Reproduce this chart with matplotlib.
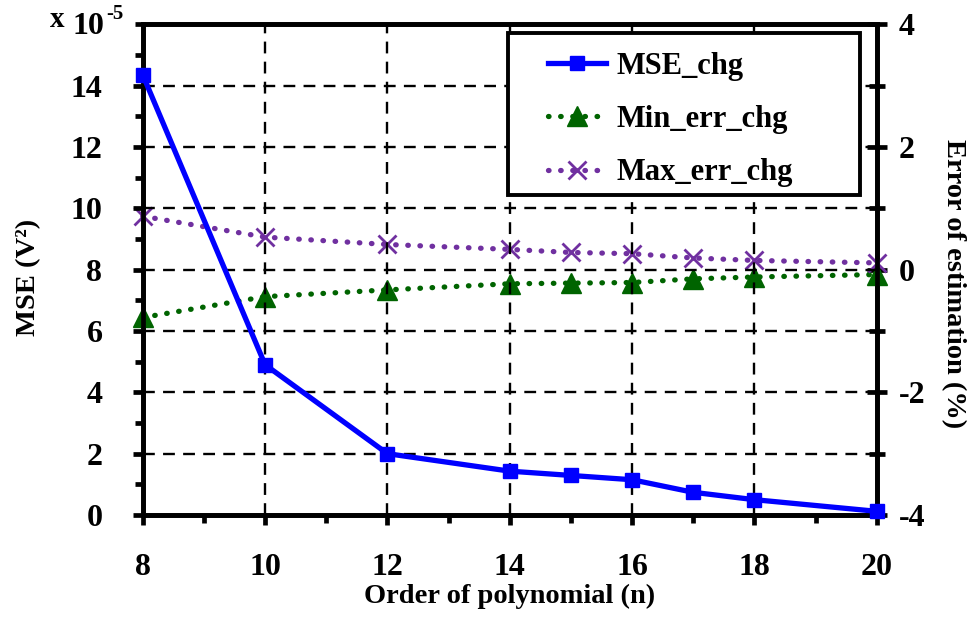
import matplotlib
matplotlib.use("Agg")
import matplotlib.pyplot as plt
from matplotlib.patches import Rectangle
from matplotlib.ticker import MultipleLocator, FixedLocator

plt.rcParams['font.family'] = ['Liberation Serif', 'DejaVu Serif']
plt.rcParams['font.weight'] = 'bold'
plt.rcParams['axes.unicode_minus'] = False

# Polynomial order
order = [8, 10, 12, 14, 15, 16, 17, 18, 20]
# Mean squared error (x 1e-5 V^2)
mse_chg = [14.35, 4.9, 2.0, 1.43, 1.29, 1.15, 0.74, 0.50, 0.12]
# Estimation error bounds (%)
min_err_chg = [-0.78, -0.44, -0.33, -0.23, -0.22, -0.21, -0.15, -0.12, -0.08]
max_err_chg = [0.87, 0.53, 0.41, 0.33, 0.28, 0.26, 0.19, 0.15, 0.11]

x_ticks = [8, 10, 12, 14, 16, 18, 20]
left_ticks = [0, 2, 4, 6, 8, 10, 12, 14]
right_ticks = [-4, -2, 0, 2, 4]

fig = plt.figure(figsize=(9.71, 6.22), dpi=100)
ax = fig.add_axes([0.147, 0.172, 0.756, 0.789])
ax2 = ax.twinx()

ax.set_xlim(8, 20)
ax.set_ylim(0, 16)
ax2.set_ylim(-4, 4)

# dashed grid on even orders and even MSE values
grid_kw = dict(color='black', lw=1.7, ls=(0, (5, 3.5)), zorder=0.5)
for xv in x_ticks[1:-1]:
    ax.axvline(xv, **grid_kw)
for yv in left_ticks[1:]:
    ax.axhline(yv, **grid_kw)

l1, = ax.plot(order, mse_chg, color='#0000FF', lw=3.8, marker='s', ms=10,
              label='MSE_chg', zorder=3, clip_on=False)
l2, = ax2.plot(order, min_err_chg, color='#006400', lw=3.8, ls=(0, (0.1, 2.2)),
               dash_capstyle='round', marker='^', ms=14, label='Min_err_chg',
               zorder=3, clip_on=False)
l3, = ax2.plot(order, max_err_chg, color='#7030A0', lw=3.8, ls=(0, (0.1, 2.2)),
               dash_capstyle='round', marker='x', ms=13, mew=2.0,
               label='Max_err_chg', zorder=3, clip_on=False)
ax.set_zorder(ax2.get_zorder() + 1)
ax.patch.set_visible(False)

for a in (ax, ax2):
    for s in a.spines.values():
        s.set_linewidth(3.4)

ax.xaxis.set_major_locator(FixedLocator(x_ticks))
ax.xaxis.set_minor_locator(MultipleLocator(1))
ax.yaxis.set_major_locator(FixedLocator(left_ticks))
ax.yaxis.set_minor_locator(MultipleLocator(1))
ax2.yaxis.set_major_locator(FixedLocator(right_ticks))
ax2.yaxis.set_minor_locator(MultipleLocator(1))

tick_fs = 23
ax.tick_params(axis='x', which='major', direction='out', length=7, width=3.4,
               pad=20, labelsize=tick_fs)
ax.tick_params(axis='x', which='minor', direction='out', length=6, width=3.4)
ax.tick_params(axis='y', which='major', direction='out', length=7, width=3.4,
               pad=22, labelsize=tick_fs)
ax.tick_params(axis='y', which='minor', direction='out', length=6, width=3.4)
ax2.tick_params(axis='y', which='major', direction='inout', length=14, width=3.4,
                pad=9, labelsize=tick_fs)
ax2.tick_params(axis='y', which='minor', direction='inout', length=12, width=3.4)

ax.set_xlabel('Order of polynomial (n)', fontsize=20.5, fontweight='bold', labelpad=2)
ax.set_ylabel('MSE (V²)', fontsize=20.5, fontweight='bold', labelpad=21)
ax2.set_ylabel('Error of estimation (%)', fontsize=20.5, fontweight='bold',
               rotation=-90, labelpad=29)
ax.yaxis.label.set_y(0.485)
ax2.yaxis.label.set_y(0.472)

fig.text(0.051, 0.968, 'x', fontsize=21, fontweight='bold', ha='left', va='center')
fig.text(0.075, 0.958, '10', fontsize=23, fontweight='bold', ha='left', va='center')
fig.text(0.109, 0.978, '-5', fontsize=15, fontweight='bold', ha='left', va='center')

# legend entries with a separately drawn box
leg = ax.legend(handles=[l1, l2, l3], loc='center left',
                bbox_to_anchor=(0.552, 0.806), fontsize=22, frameon=False,
                borderpad=0, labelspacing=0.8, handlelength=1.9,
                handletextpad=0.35, borderaxespad=0)
for t in leg.get_texts():
    t.set_fontweight('bold')
ax.add_patch(Rectangle((0.497, 0.652), 0.48, 0.33, transform=ax.transAxes,
                       facecolor='white', edgecolor='black', lw=2.8,
                       zorder=4, clip_on=False))
leg.set_zorder(5)

fig.savefig('out.png', dpi=100)
